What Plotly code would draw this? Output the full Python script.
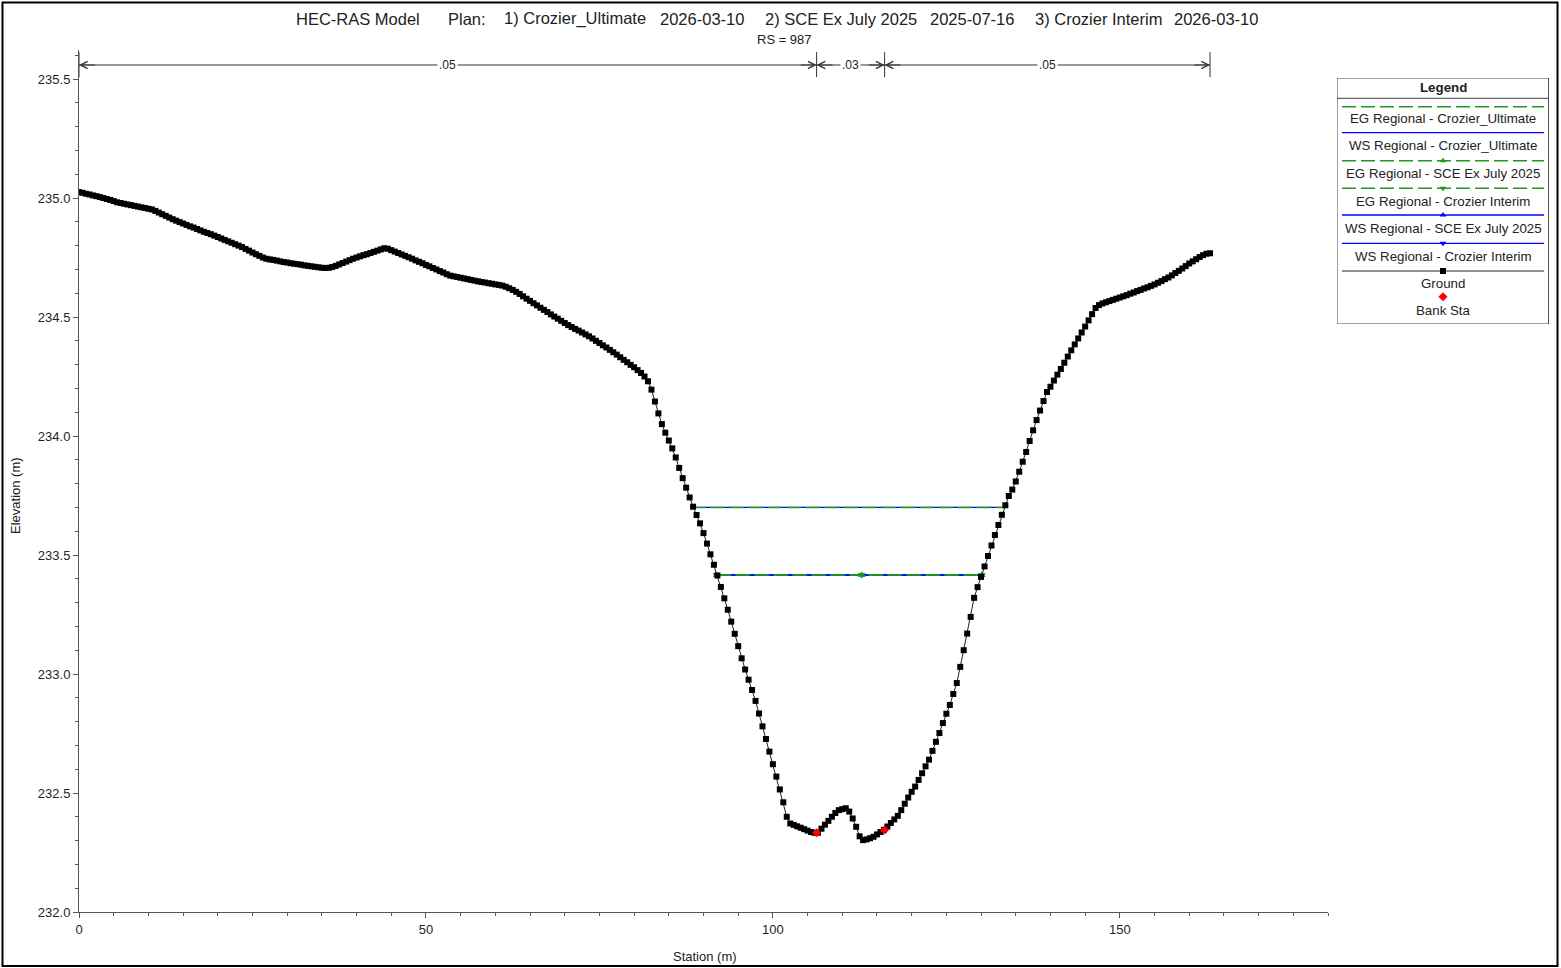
import plotly.graph_objects as go

# ---------------- data ----------------
STATION = [
    0.0, 0.5, 1.0, 1.5, 2.0, 2.5, 3.0, 3.5, 4.0, 4.5,
    5.0, 5.5, 6.0, 6.5, 7.0, 7.5, 8.0, 8.5, 9.0, 9.5,
    10.0, 10.5, 11.0, 11.5, 12.0, 12.5, 13.0, 13.5, 14.0, 14.5,
    15.0, 15.5, 16.0, 16.5, 17.0, 17.5, 18.0, 18.5, 19.0, 19.5,
    20.0, 20.5, 21.0, 21.5, 22.0, 22.5, 23.0, 23.5, 24.0, 24.5,
    25.0, 25.5, 26.0, 26.5, 27.0, 27.5, 28.0, 28.5, 29.0, 29.5,
    30.0, 30.5, 31.0, 31.5, 32.0, 32.5, 33.0, 33.5, 34.0, 34.5,
    35.0, 35.5, 36.0, 36.5, 37.0, 37.5, 38.0, 38.5, 39.0, 39.5,
    40.0, 40.5, 41.0, 41.5, 42.0, 42.5, 43.0, 43.5, 44.0, 44.5,
    45.0, 45.5, 46.0, 46.5, 47.0, 47.5, 48.0, 48.5, 49.0, 49.5,
    50.0, 50.5, 51.0, 51.5, 52.0, 52.5, 53.0, 53.5, 54.0, 54.5,
    55.0, 55.5, 56.0, 56.5, 57.0, 57.5, 58.0, 58.5, 59.0, 59.5,
    60.0, 60.5, 61.0, 61.5, 62.0, 62.5, 63.0, 63.5, 64.0, 64.5,
    65.0, 65.5, 66.0, 66.5, 67.0, 67.5, 68.0, 68.5, 69.0, 69.5,
    70.0, 70.5, 71.0, 71.5, 72.0, 72.5, 73.0, 73.5, 74.0, 74.5,
    75.0, 75.5, 76.0, 76.5, 77.0, 77.5, 78.0, 78.5, 79.0, 79.5,
    80.0, 80.5, 81.0, 81.5, 82.0, 82.5, 83.0, 83.5, 84.0, 84.5,
    85.0, 85.5, 86.0, 86.5, 87.0, 87.5, 88.0, 88.5, 89.0, 89.5,
    90.0, 90.5, 91.0, 91.5, 92.0, 92.5, 93.0, 93.5, 94.0, 94.5,
    95.0, 95.5, 96.0, 96.5, 97.0, 97.5, 98.0, 98.5, 99.0, 99.5,
    100.0, 100.5, 101.0, 101.5, 102.0, 102.5, 103.0, 103.5, 104.0, 104.5,
    105.0, 105.5, 106.0, 106.5, 107.0, 107.5, 108.0, 108.5, 109.0, 109.5,
    110.0, 110.5, 111.0, 111.5, 112.0, 112.5, 113.0, 113.5, 114.0, 114.5,
    115.0, 115.5, 116.0, 116.5, 117.0, 117.5, 118.0, 118.5, 119.0, 119.5,
    120.0, 120.5, 121.0, 121.5, 122.0, 122.5, 123.0, 123.5, 124.0, 124.5,
    125.0, 125.5, 126.0, 126.5, 127.0, 127.5, 128.0, 128.5, 129.0, 129.5,
    130.0, 130.5, 131.0, 131.5, 132.0, 132.5, 133.0, 133.5, 134.0, 134.5,
    135.0, 135.5, 136.0, 136.5, 137.0, 137.5, 138.0, 138.5, 139.0, 139.5,
    140.0, 140.5, 141.0, 141.5, 142.0, 142.5, 143.0, 143.5, 144.0, 144.5,
    145.0, 145.5, 146.0, 146.5, 147.0, 147.5, 148.0, 148.5, 149.0, 149.5,
    150.0, 150.5, 151.0, 151.5, 152.0, 152.5, 153.0, 153.5, 154.0, 154.5,
    155.0, 155.5, 156.0, 156.5, 157.0, 157.5, 158.0, 158.5, 159.0, 159.5,
    160.0, 160.5, 161.0, 161.5, 162.0, 162.5, 163.0,
]

ELEVATION = [
    235.025, 235.022, 235.018, 235.015, 235.011, 235.008, 235.004, 235.000, 234.996, 234.992,
    234.987, 234.982, 234.979, 234.976, 234.973, 234.970, 234.967, 234.964, 234.961, 234.958,
    234.955, 234.952, 234.946, 234.939, 234.932, 234.925, 234.918, 234.911, 234.905, 234.899,
    234.893, 234.887, 234.881, 234.876, 234.870, 234.864, 234.858, 234.853, 234.848, 234.842,
    234.836, 234.830, 234.824, 234.818, 234.812, 234.806, 234.800, 234.794, 234.786, 234.779,
    234.771, 234.764, 234.757, 234.750, 234.745, 234.742, 234.740, 234.737, 234.734, 234.731,
    234.729, 234.726, 234.724, 234.722, 234.720, 234.717, 234.715, 234.713, 234.711, 234.709,
    234.707, 234.706, 234.707, 234.710, 234.715, 234.721, 234.727, 234.733, 234.739, 234.745,
    234.750, 234.755, 234.760, 234.764, 234.769, 234.774, 234.779, 234.784, 234.789, 234.787,
    234.781, 234.775, 234.769, 234.763, 234.757, 234.751, 234.745, 234.738, 234.732, 234.726,
    234.719, 234.713, 234.706, 234.700, 234.693, 234.687, 234.680, 234.674, 234.671, 234.668,
    234.665, 234.662, 234.659, 234.656, 234.653, 234.650, 234.647, 234.645, 234.642, 234.640,
    234.637, 234.635, 234.632, 234.627, 234.621, 234.614, 234.606, 234.597, 234.587, 234.577,
    234.568, 234.558, 234.549, 234.539, 234.530, 234.521, 234.511, 234.502, 234.493, 234.484,
    234.475, 234.466, 234.458, 234.450, 234.443, 234.435, 234.427, 234.419, 234.410, 234.400,
    234.391, 234.381, 234.372, 234.362, 234.352, 234.342, 234.331, 234.320, 234.310, 234.299,
    234.289, 234.277, 234.265, 234.250, 234.230, 234.195, 234.145, 234.095, 234.050, 234.014,
    233.981, 233.948, 233.910, 233.866, 233.823, 233.783, 233.742, 233.703, 233.668, 233.633,
    233.592, 233.548, 233.503, 233.459, 233.414, 233.366, 233.318, 233.270, 233.220, 233.169,
    233.117, 233.066, 233.019, 232.976, 232.933, 232.887, 232.834, 232.780, 232.727, 232.674,
    232.621, 232.569, 232.515, 232.461, 232.400, 232.372, 232.366, 232.360, 232.354, 232.348,
    232.342, 232.336, 232.333, 232.333, 232.350, 232.367, 232.383, 232.400, 232.416, 232.428,
    232.432, 232.436, 232.422, 232.393, 232.358, 232.318, 232.302, 232.305, 232.310, 232.316,
    232.326, 232.336, 232.345, 232.359, 232.374, 232.389, 232.404, 232.428, 232.455, 232.481,
    232.505, 232.527, 232.555, 232.583, 232.612, 232.640, 232.677, 232.715, 232.752, 232.794,
    232.833, 232.870, 232.916, 232.962, 233.030, 233.100, 233.170, 233.240, 233.320, 233.365,
    233.408, 233.452, 233.496, 233.540, 233.584, 233.626, 233.669, 233.709, 233.748, 233.775,
    233.809, 233.850, 233.892, 233.933, 233.979, 234.024, 234.067, 234.107, 234.147, 234.185,
    234.207, 234.233, 234.258, 234.282, 234.308, 234.334, 234.360, 234.385, 234.410, 234.435,
    234.460, 234.486, 234.512, 234.538, 234.550, 234.557, 234.562, 234.567, 234.572, 234.577,
    234.582, 234.587, 234.592, 234.598, 234.603, 234.609, 234.614, 234.620, 234.625, 234.631,
    234.637, 234.644, 234.651, 234.659, 234.666, 234.675, 234.685, 234.694, 234.704, 234.714,
    234.725, 234.734, 234.743, 234.752, 234.760, 234.766, 234.768,
]

BANK_STA = [106.3, 116.1]
BANK_ELEV = [232.333, 232.345]

N_STA = [0.0, 106.3, 116.1, 163.0]
N_VAL = [".05", ".03", ".05"]

ULT_STA = [88.3, 133.4]
ULT_WS = [233.70, 233.70]
ULT_EG = [233.70, 233.70]

SCE_STA = [91.9, 112.8, 130.1]
SCE_WS = [233.416, 233.416, 233.416]
SCE_EG = [233.416, 233.416, 233.416]

INT_STA = [91.9, 112.8, 130.1]
INT_WS = [233.416, 233.416, 233.416]
INT_EG = [233.416, 233.416, 233.416]

TITLE_PARTS = ["HEC-RAS Model", "Plan:", "1) Crozier_Ultimate", "2026-03-10",
               "2) SCE Ex July 2025", "2025-07-16", "3) Crozier Interim", "2026-03-10"]
SUBTITLE = "RS = 987"

# ---------------- layout helpers ----------------
W, H, OFF = 1561, 968, 0
def PX(x):
    return (x - OFF) / W
def PY(y):
    return 1 - (y - OFF) / H

TITLE_X = [294, 446, 502, 658, 763, 928, 1033, 1172]

FONT = "Arial, 'Liberation Sans', Helvetica, sans-serif"
GREEN = "#1f9a1f"
BLUE = "#0000ff"
DASH = "14px,5px"

styles = {
    "EG Regional - Crozier_Ultimate": dict(line=dict(color=GREEN, width=1.5, dash=DASH), marker=None),
    "WS Regional - Crozier_Ultimate": dict(line=dict(color=BLUE, width=1.3), marker=None),
    "EG Regional - SCE Ex July 2025": dict(line=dict(color=GREEN, width=1.5, dash=DASH), marker="triangle-up"),
    "EG Regional - Crozier Interim": dict(line=dict(color=GREEN, width=1.5, dash=DASH), marker="triangle-down"),
    "WS Regional - SCE Ex July 2025": dict(line=dict(color=BLUE, width=1.3), marker="triangle-up"),
    "WS Regional - Crozier Interim": dict(line=dict(color=BLUE, width=1.3), marker="triangle-down"),
    "Ground": dict(line=dict(color="#222222", width=1), marker="square"),
    "Bank Sta": dict(line=None, marker="diamond"),
}

fig = go.Figure()

def add_series(name, xs, ys, mcolor, msize=5):
    st = styles[name]
    kw = dict(x=xs, y=ys, name=name, showlegend=False, hoverinfo="skip")
    if st["line"] is not None and st["marker"] is not None:
        kw.update(mode="lines+markers", line=st["line"],
                  marker=dict(symbol=st["marker"], size=msize, color=mcolor, line=dict(width=0)))
    elif st["line"] is not None:
        kw.update(mode="lines", line=st["line"])
    else:
        kw.update(mode="markers", marker=dict(symbol=st["marker"], size=msize, color=mcolor, line=dict(width=0)))
    fig.add_trace(go.Scatter(**kw))

# water surfaces first, energy grade lines on top
add_series("WS Regional - Crozier_Ultimate", ULT_STA, ULT_WS, BLUE)
add_series("WS Regional - SCE Ex July 2025", SCE_STA, SCE_WS, BLUE, 6)
add_series("WS Regional - Crozier Interim", INT_STA, INT_WS, BLUE, 6)
add_series("EG Regional - Crozier_Ultimate", ULT_STA, ULT_EG, GREEN)
add_series("EG Regional - SCE Ex July 2025", SCE_STA, SCE_EG, GREEN, 7)
add_series("EG Regional - Crozier Interim", INT_STA, INT_EG, GREEN, 7)
add_series("Ground", STATION, ELEVATION, "#000000", 6)
add_series("Bank Sta", BANK_STA, BANK_ELEV, "#ff0000", 7)

# ---------------- Manning's n bar at top ----------------
N_Y = 235.559
shapes = []
shapes.append(dict(type="line", xref="x", yref="y", x0=N_STA[0], x1=N_STA[-1], y0=N_Y, y1=N_Y,
                   line=dict(color="#333333", width=1)))
for s in N_STA:
    shapes.append(dict(type="line", xref="x", yref="y", x0=s, x1=s, y0=235.508, y1=235.613,
                       line=dict(color="#333333", width=1)))

annotations = []
for i, s in enumerate(N_STA):
    if i > 0:
        annotations.append(dict(x=s, y=N_Y, ax=s - 2.5, ay=N_Y, xref="x", yref="y", axref="x", ayref="y",
                                text="", showarrow=True, arrowhead=5, arrowsize=1.4, arrowwidth=1,
                                arrowcolor="#333333", standoff=0))
    if i < len(N_STA) - 1:
        annotations.append(dict(x=s, y=N_Y, ax=s + 2.5, ay=N_Y, xref="x", yref="y", axref="x", ayref="y",
                                text="", showarrow=True, arrowhead=5, arrowsize=1.4, arrowwidth=1,
                                arrowcolor="#333333", standoff=0))
for i, v in enumerate(N_VAL):
    annotations.append(dict(x=(N_STA[i] + N_STA[i + 1]) / 2, y=N_Y, xref="x", yref="y", text=v,
                            showarrow=False, bgcolor="white", borderpad=1,
                            font=dict(family=FONT, size=12, color="#222222")))

# ---------------- titles ----------------
for t, xp in zip(TITLE_PARTS, TITLE_X):
    annotations.append(dict(x=PX(xp), y=PY(19), xref="paper", yref="paper", text=t, showarrow=False,
                            xanchor="left", yanchor="middle",
                            font=dict(family=FONT, size=16.5, color="#222222")))
annotations.append(dict(x=PX(784), y=PY(40), xref="paper", yref="paper", text=SUBTITLE, showarrow=False,
                        xanchor="center", yanchor="middle", font=dict(family=FONT, size=13, color="#222222")))
annotations.append(dict(x=PX(705), y=PY(956), xref="paper", yref="paper", text="Station (m)", showarrow=False,
                        xanchor="center", yanchor="middle", font=dict(family=FONT, size=13, color="#222222")))
annotations.append(dict(x=PX(16), y=PY(496), xref="paper", yref="paper", text="Elevation (m)", showarrow=False,
                        textangle=-90, xanchor="center", yanchor="middle",
                        font=dict(family=FONT, size=13, color="#222222")))

# ---------------- custom legend box (own axes) ----------------
LEG_NAMES = list(styles.keys())
LEG_LINE_Y = [28.7, 54.7, 82.7, 110.3, 137.0, 165.3, 193.0, 218.7]
LEG_TEXT_Y = [40.3, 67.7, 95.3, 123.0, 150.3, 178.0, 205.3, 232.0]
LEG_COLORS = [GREEN, BLUE, GREEN, GREEN, BLUE, BLUE, "#000000", "#ff0000"]
for name, ly, ty, mc in zip(LEG_NAMES, LEG_LINE_Y, LEG_TEXT_Y, LEG_COLORS):
    st = styles[name]
    if st["line"] is not None:
        fig.add_trace(go.Scatter(x=[5, 207], y=[ly, ly], mode="lines", line=st["line"],
                                 xaxis="x2", yaxis="y2", showlegend=False, hoverinfo="skip"))
    if st["marker"] is not None:
        fig.add_trace(go.Scatter(x=[106], y=[ly], mode="markers",
                                 marker=dict(symbol=st["marker"], size=6 if name != "Bank Sta" else 7,
                                             color=mc, line=dict(width=0)),
                                 xaxis="x2", yaxis="y2", showlegend=False, hoverinfo="skip"))
    annotations.append(dict(x=106, y=ty, xref="x2", yref="y2", text=name, showarrow=False,
                            xanchor="center", yanchor="middle",
                            font=dict(family=FONT, size=13.3, color="#222222")))
annotations.append(dict(x=106, y=9, xref="x2", yref="y2", text="<b>Legend</b>", showarrow=False,
                        xanchor="center", yanchor="middle", font=dict(family=FONT, size=13.3, color="#222222")))
shapes.append(dict(type="rect", xref="x2", yref="y2", x0=0, x1=212, y0=0, y1=246,
                   line=dict(color="#444444", width=1), fillcolor="rgba(0,0,0,0)"))
shapes.append(dict(type="line", xref="x2", yref="y2", x0=212.5, x1=212.5, y0=0, y1=246.5,
                   line=dict(color="#000000", width=2)))
shapes.append(dict(type="line", xref="x2", yref="y2", x0=0, x1=212, y0=20.3, y1=20.3,
                   line=dict(color="#444444", width=1)))

# outer frame
shapes.append(dict(type="rect", xref="paper", yref="paper", x0=PX(2.5), x1=PX(1557.5), y0=PY(966), y1=PY(2.5),
                   line=dict(color="#000000", width=2)))

axis_common = dict(ticks="outside", ticklen=5, tickwidth=1, tickcolor="#555555", showline=True,
                   linecolor="#555555", linewidth=1, showgrid=False, zeroline=False, automargin=False,
                   tickfont=dict(family=FONT, size=13, color="#1e1e2e"), fixedrange=True)

fig.update_layout(
    width=W, height=H,
    margin=dict(l=0, r=0, t=0, b=0),
    paper_bgcolor="white", plot_bgcolor="white",
    showlegend=False,
    font=dict(family=FONT, size=13, color="#222222"),
    xaxis=dict(domain=[PX(79), PX(1328)], range=[0, 180], tick0=0, dtick=50, anchor="y",
               minor=dict(tick0=0, dtick=5, ticks="outside", ticklen=3, tickcolor="#555555", showgrid=False),
               **axis_common),
    yaxis=dict(domain=[PY(912), PY(50)], range=[232.0, 235.622], tick0=232.0, dtick=0.5, tickformat=".1f",
               anchor="x",
               minor=dict(tick0=232.0, dtick=0.1, ticks="outside", ticklen=3, tickcolor="#555555", showgrid=False),
               **axis_common),
    xaxis2=dict(domain=[PX(1337), PX(1549)], range=[0, 212], visible=False, anchor="y2", fixedrange=True),
    yaxis2=dict(domain=[PY(324), PY(78)], range=[246, 0], visible=False, anchor="x2", fixedrange=True),
    shapes=shapes,
    annotations=annotations,
)

fig.write_html(
    "out.html",
    config={"displayModeBar": False},
    post_script="document.documentElement.style.overflow='hidden';"
                "document.body.style.margin='0';document.body.style.overflow='hidden';",
)
